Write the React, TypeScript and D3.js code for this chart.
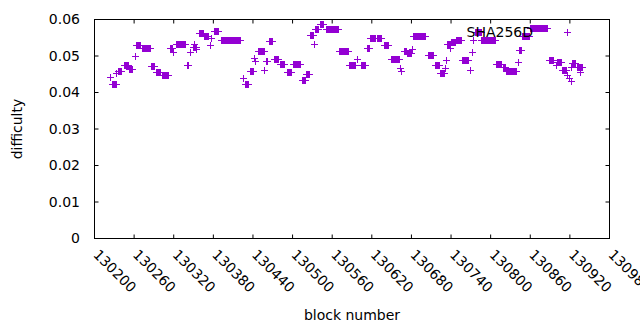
import * as d3 from 'd3';

const WIDTH = 640;
const HEIGHT = 330;
const PLOT = { left: 94.5, right: 609.5, top: 19.5, bottom: 238.5 };
const PURPLE = '#9400d3';
const FONT = '"DejaVu Sans", sans-serif';
const FONT_SIZE = 14;
const TICK = 4;
const ARM = 3.5;

const xTicks = [
  130200, 130260, 130320, 130380, 130440, 130500, 130560,
  130620, 130680, 130740, 130800, 130860, 130920, 130980,
];
const yTicks = [0, 0.01, 0.02, 0.03, 0.04, 0.05, 0.06];
const yTickLabels = ['0', '0.01', '0.02', '0.03', '0.04', '0.05', '0.06'];

const seriesName = 'SHA256D';

// runs of consecutive blocks (start, end, difficulty)
const runStart = [
  130224, 130226, 130233, 130235, 130244, 130253, 130261, 130263, 130272, 130286,
  130293, 130302, 130315, 130319, 130323, 130340, 130345, 130349, 130350, 130354,
  130359, 130366, 130375, 130377, 130381, 130391, 130425, 130428, 130436, 130441,
  130443, 130448, 130457, 130459, 130464, 130472, 130481, 130491, 130500, 130515,
  130521, 130527, 130532, 130534, 130542, 130550, 130571, 130586, 130597, 130604,
  130612, 130618, 130628, 130638, 130649, 130663, 130664, 130668, 130674, 130681,
  130683, 130705, 130716, 130724, 130731, 130733, 130734, 130738, 130740, 130748,
  130757, 130768, 130772, 130773, 130777, 130786, 130808, 130818, 130823, 130842,
  130843, 130848, 130859, 130889, 130899, 130900, 130908, 130915, 130918, 130921,
  130922, 130923, 130931, 130935,
];
const runEnd = [
  130224, 130232, 130233, 130240, 130250, 130257, 130261, 130269, 130284, 130290,
  130299, 130312, 130318, 130319, 130337, 130342, 130345, 130353, 130350, 130354,
  130365, 130372, 130375, 130377, 130387, 130421, 130425, 130433, 130440, 130441,
  130443, 130456, 130457, 130462, 130469, 130478, 130487, 130498, 130511, 130519,
  130525, 130531, 130532, 130539, 130546, 130569, 130584, 130595, 130597, 130610,
  130615, 130625, 130634, 130645, 130661, 130663, 130664, 130672, 130680, 130681,
  130700, 130712, 130722, 130730, 130731, 130733, 130739, 130738, 130746, 130755,
  130766, 130768, 130772, 130773, 130785, 130806, 130815, 130822, 130839, 130842,
  130846, 130858, 130886, 130895, 130899, 130906, 130914, 130915, 130918, 130921,
  130922, 130928, 130939, 130935,
];
const runDifficulty = [
  0.0442, 0.0423, 0.0453, 0.0458, 0.0474, 0.0464, 0.0499, 0.0529, 0.0521, 0.0472,
  0.0455, 0.0449, 0.0523, 0.0510, 0.0532, 0.0475, 0.0510, 0.0526, 0.0534, 0.0519,
  0.0564, 0.0554, 0.0530, 0.0548, 0.0569, 0.0543, 0.0439, 0.0423, 0.0459, 0.0495,
  0.0487, 0.0513, 0.0463, 0.0487, 0.0540, 0.0491, 0.0477, 0.0456, 0.0479, 0.0434,
  0.0450, 0.0557, 0.0534, 0.0573, 0.0587, 0.0573, 0.0513, 0.0474, 0.0492, 0.0476,
  0.0521, 0.0548, 0.0550, 0.0529, 0.0491, 0.0466, 0.0459, 0.0514, 0.0509, 0.0518,
  0.0555, 0.0502, 0.0474, 0.0453, 0.0466, 0.0489, 0.0533, 0.0522, 0.0539, 0.0545,
  0.0489, 0.0463, 0.0510, 0.0543, 0.0566, 0.0543, 0.0477, 0.0471, 0.0458, 0.0483,
  0.0516, 0.0554, 0.0578, 0.0489, 0.0475, 0.0483, 0.0461, 0.0448, 0.0439, 0.0432,
  0.0471, 0.0480, 0.0469, 0.0457,
];

const points = runStart.flatMap((s, i) =>
  d3.range(s, runEnd[i] + 1).map(block => ({ block, value: runDifficulty[i] })),
);

const plusPath = (x: number, y: number) =>
  `M${x - ARM},${y}h${2 * ARM}M${x},${y - ARM}v${2 * ARM}`;

export default function App() {
  const x = d3.scaleLinear().domain([130200, 130980]).range([PLOT.left, PLOT.right]);
  const y = d3.scaleLinear().domain([0, 0.06]).range([PLOT.bottom, PLOT.top]);

  const markPath = points
    .map(p => plusPath(Math.round(x(p.block)) + 0.5, Math.round(y(p.value)) + 0.5))
    .join('');

  return (
    <svg
      width={WIDTH}
      height={HEIGHT}
      style={{ position: 'absolute', left: 0, top: 0, background: '#fff' }}
      fontFamily={FONT}
      fontSize={FONT_SIZE}
    >
      <rect width={WIDTH} height={HEIGHT} fill="#fff" />

      {yTicks.map((t, i) => (
        <g key={t}>
          <path d={`M${PLOT.left},${y(t)}h${TICK}M${PLOT.right},${y(t)}h${-TICK}`} stroke="#000" />
          <text x={80} y={y(t)} dy="0.35em" textAnchor="end">
            {yTickLabels[i]}
          </text>
        </g>
      ))}

      {xTicks.map(t => (
        <g key={t}>
          <path d={`M${x(t)},${PLOT.bottom}v${-TICK}M${x(t)},${PLOT.top}v${TICK}`} stroke="#000" />
          <text transform={`translate(${x(t) - 2},${PLOT.bottom + 17}) rotate(45)`}>{t}</text>
        </g>
      ))}

      <path d={markPath} stroke={PURPLE} strokeWidth={1} fill="none" />

      <rect
        x={PLOT.left}
        y={PLOT.top}
        width={PLOT.right - PLOT.left}
        height={PLOT.bottom - PLOT.top}
        fill="none"
        stroke="#000"
      />

      <text x={533} y={32} dy="0.35em" textAnchor="end">
        {seriesName}
      </text>
      <path d={plusPath(567.5, 32.5)} stroke={PURPLE} fill="none" />

      <text transform={`translate(17,${(PLOT.top + PLOT.bottom) / 2}) rotate(-90)`} textAnchor="middle" dy="0.35em">
        difficulty
      </text>
      <text x={(PLOT.left + PLOT.right) / 2} y={320} textAnchor="middle">
        block number
      </text>
    </svg>
  );
}
